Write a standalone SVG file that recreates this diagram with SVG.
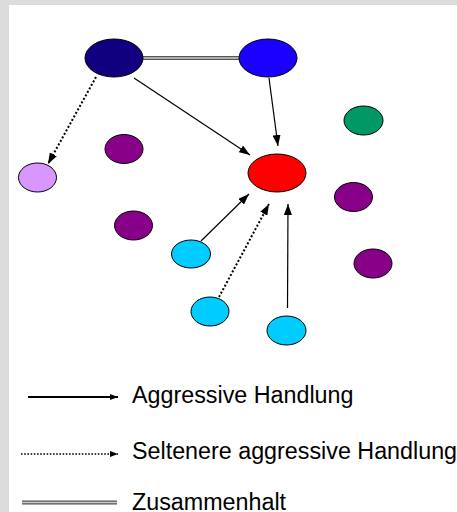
<svg xmlns="http://www.w3.org/2000/svg" width="457" height="512" viewBox="0 0 457 512">
<defs>
<marker id="ah" markerUnits="userSpaceOnUse" markerWidth="11" markerHeight="8" refX="11" refY="4" orient="auto"><path d="M0,0 L11,4 L0,8 z" fill="#000"/></marker>
<marker id="ahs" markerUnits="userSpaceOnUse" markerWidth="8" markerHeight="6" refX="8" refY="3" orient="auto"><path d="M0,0 L8,3 L0,6 z" fill="#000"/></marker>
</defs>
<style>
.n{stroke:#000;stroke-width:1}
.solid{stroke:#000;stroke-width:1.2;fill:none}
.dot{stroke:#000;stroke-width:2;stroke-dasharray:2 2;fill:none}
.lsolid{stroke:#000;stroke-width:1.8;fill:none}
.ldot{stroke:#000;stroke-width:1.6;stroke-dasharray:1.6 1.6;fill:none}
.dbl-o{stroke:#555;stroke-width:4;fill:none}
.dbl-i{stroke:#ccc;stroke-width:1.4;fill:none}
.t{font-family:"Liberation Sans",Arial,sans-serif;font-size:23.3px;fill:#000}
</style>
<rect width="457" height="512" fill="#dcdcdc"/>
<rect x="9" y="5" width="448" height="507" fill="#fff"/>
<g id="connectors">
<line class="dbl-o" x1="143" y1="58" x2="239" y2="58"/>
<line class="dbl-i" x1="143" y1="58" x2="239" y2="58"/>
<line class="dot" x1="96" y1="77" x2="48" y2="164" marker-end="url(#ah)"/>
<line class="solid" x1="134" y1="78" x2="250" y2="155" marker-end="url(#ah)"/>
<line class="solid" x1="269" y1="78" x2="278" y2="146" marker-end="url(#ah)"/>
<line class="solid" x1="201" y1="241" x2="249" y2="194" marker-end="url(#ah)"/>
<line class="dot" x1="219" y1="297" x2="269" y2="204" marker-end="url(#ah)"/>
<line class="solid" x1="287.5" y1="308" x2="288" y2="204" marker-end="url(#ah)"/>
</g>
<g id="navy"><ellipse class="n" cx="114" cy="58" rx="29" ry="19" fill="#100080"/></g>
<g id="blue"><ellipse class="n" cx="268" cy="58" rx="29" ry="19" fill="#1a00ff"/></g>
<g id="green"><ellipse class="n" cx="363.5" cy="120.5" rx="19.5" ry="14.5" fill="#009966"/></g>
<g id="purple1"><ellipse class="n" cx="124" cy="149" rx="19" ry="14.5" fill="#880088"/></g>
<g id="lilac"><ellipse class="n" cx="37.5" cy="177.5" rx="19" ry="14.5" fill="#d896ff"/></g>
<g id="red"><ellipse class="n" cx="277" cy="173" rx="29" ry="19" fill="#ff0000"/></g>
<g id="purple2"><ellipse class="n" cx="353.5" cy="197" rx="19" ry="14.5" fill="#880088"/></g>
<g id="purple3"><ellipse class="n" cx="133.5" cy="225.5" rx="19" ry="14.5" fill="#880088"/></g>
<g id="cyan1"><ellipse class="n" cx="191" cy="254" rx="19.5" ry="14" fill="#00ccff"/></g>
<g id="purple4"><ellipse class="n" cx="373" cy="263.5" rx="19" ry="14.5" fill="#880088"/></g>
<g id="cyan2"><ellipse class="n" cx="210" cy="311.5" rx="19" ry="14.5" fill="#00ccff"/></g>
<g id="cyan3"><ellipse class="n" cx="286.5" cy="330.5" rx="19.5" ry="14.5" fill="#00ccff"/></g>
<g id="legend">
<line class="lsolid" x1="28" y1="397" x2="118" y2="397" marker-end="url(#ahs)"/>
<text class="t" x="132" y="403">Aggressive Handlung</text>
<line class="ldot" x1="21" y1="454" x2="118" y2="454" marker-end="url(#ahs)"/>
<text class="t" x="132" y="459">Seltenere aggressive Handlung</text>
<line class="dbl-o" x1="22" y1="502.5" x2="117" y2="502.5"/>
<line class="dbl-i" x1="22" y1="502.5" x2="117" y2="502.5"/>
<text class="t" x="132" y="509.5">Zusammenhalt</text>
</g>
</svg>
